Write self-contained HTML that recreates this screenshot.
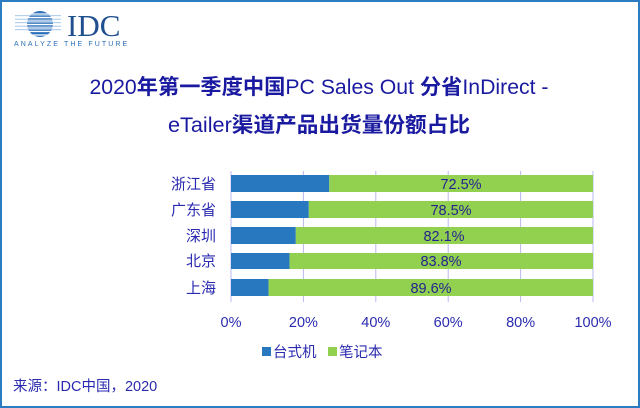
<!DOCTYPE html>
<html><head><meta charset="utf-8"><style>
html,body{margin:0;padding:0;background:#fff}
svg{display:block}
</style></head><body>
<svg width="640" height="408" viewBox="0 0 640 408" xmlns="http://www.w3.org/2000/svg" font-family="'Liberation Sans','Noto Sans CJK SC',sans-serif">
<rect x="1" y="1" width="638" height="406" fill="#fff" stroke="#2b7cc1" stroke-width="2"/>
<!-- logo -->
<g>
<circle cx="40" cy="24" r="13" fill="#2b6fb8"/>
<g stroke="#fff" stroke-width="1.3">
<line x1="20" y1="14" x2="62" y2="14"/><line x1="20" y1="17.5" x2="62" y2="17.5"/>
<line x1="20" y1="21" x2="62" y2="21"/><line x1="20" y1="24.5" x2="62" y2="24.5"/>
<line x1="20" y1="28" x2="62" y2="28"/><line x1="20" y1="31.5" x2="62" y2="31.5"/>
<line x1="20" y1="35" x2="62" y2="35"/>
</g>
<g stroke="#9cc0e4" stroke-width="0.8">
<line x1="15" y1="15.7" x2="61" y2="15.7"/><line x1="15" y1="19.2" x2="61" y2="19.2"/>
<line x1="15" y1="22.7" x2="61" y2="22.7"/><line x1="15" y1="26.2" x2="61" y2="26.2"/>
<line x1="15" y1="29.7" x2="61" y2="29.7"/>
</g>
<text x="67" y="36" font-family="'Liberation Serif',serif" font-size="31" fill="#1f4f8f">IDC</text>
<text x="14" y="46" font-size="7" fill="#2b6fb8" letter-spacing="2.1">ANALYZE THE FUTURE</text>
</g>
<!-- title -->
<g fill="#1a1aa0" font-size="21" text-anchor="middle">
<text x="319" y="94" textLength="459" lengthAdjust="spacingAndGlyphs">2020<tspan font-weight="bold">年第一季度中国</tspan>PC Sales Out <tspan font-weight="bold">分省</tspan>InDirect -</text>
<text x="319" y="132" textLength="302" lengthAdjust="spacingAndGlyphs">eTailer<tspan font-weight="bold">渠道产品出货量份额占比</tspan></text>
</g>
<!-- grid -->
<g stroke="#b8b8f2" stroke-width="1">
<line x1="231" y1="171" x2="231" y2="302"/><line x1="303.4" y1="171" x2="303.4" y2="302"/>
<line x1="375.8" y1="171" x2="375.8" y2="302"/><line x1="448.2" y1="171" x2="448.2" y2="302"/>
<line x1="520.6" y1="171" x2="520.6" y2="302"/><line x1="593" y1="171" x2="593" y2="302"/>
</g>
<!-- bars -->
<g>
<rect x="231" y="175" width="98.3" height="17" fill="#2878bf"/><rect x="329.3" y="175" width="263.7" height="17" fill="#92d050"/>
<rect x="231" y="201" width="77.8" height="17" fill="#2878bf"/><rect x="308.8" y="201" width="284.2" height="17" fill="#92d050"/>
<rect x="231" y="227" width="64.8" height="17" fill="#2878bf"/><rect x="295.8" y="227" width="297.2" height="17" fill="#92d050"/>
<rect x="231" y="253" width="58.6" height="16" fill="#2878bf"/><rect x="289.6" y="253" width="303.4" height="16" fill="#92d050"/>
<rect x="231" y="279" width="37.6" height="17" fill="#2878bf"/><rect x="268.6" y="279" width="324.4" height="17" fill="#92d050"/>
</g>
<g fill="#23238f" font-size="14.5" text-anchor="middle">
<text x="461" y="189">72.5%</text><text x="451" y="215">78.5%</text>
<text x="444" y="241">82.1%</text><text x="441" y="266">83.8%</text><text x="431" y="293">89.6%</text>
</g>
<g fill="#2a2ab0" font-size="15" text-anchor="end">
<text x="216" y="189">浙江省</text><text x="216" y="215">广东省</text><text x="216" y="241">深圳</text>
<text x="216" y="266">北京</text><text x="216" y="293">上海</text>
</g>
<g fill="#2a2ab0" font-size="14.5" text-anchor="middle">
<text x="231" y="327">0%</text><text x="303.4" y="327">20%</text><text x="375.8" y="327">40%</text>
<text x="448.2" y="327">60%</text><text x="520.6" y="327">80%</text><text x="593" y="327">100%</text>
</g>
<!-- legend -->
<rect x="262" y="347" width="9" height="9" fill="#2878bf"/>
<text x="273" y="357" font-size="14.5" fill="#2a2ab0">台式机</text>
<rect x="328" y="347" width="9" height="9" fill="#92d050"/>
<text x="339" y="357" font-size="14.5" fill="#2a2ab0">笔记本</text>
<text x="13" y="391" font-size="14.5" fill="#2a2ab0">来源：IDC中国，2020</text>
</svg>
</body></html>
